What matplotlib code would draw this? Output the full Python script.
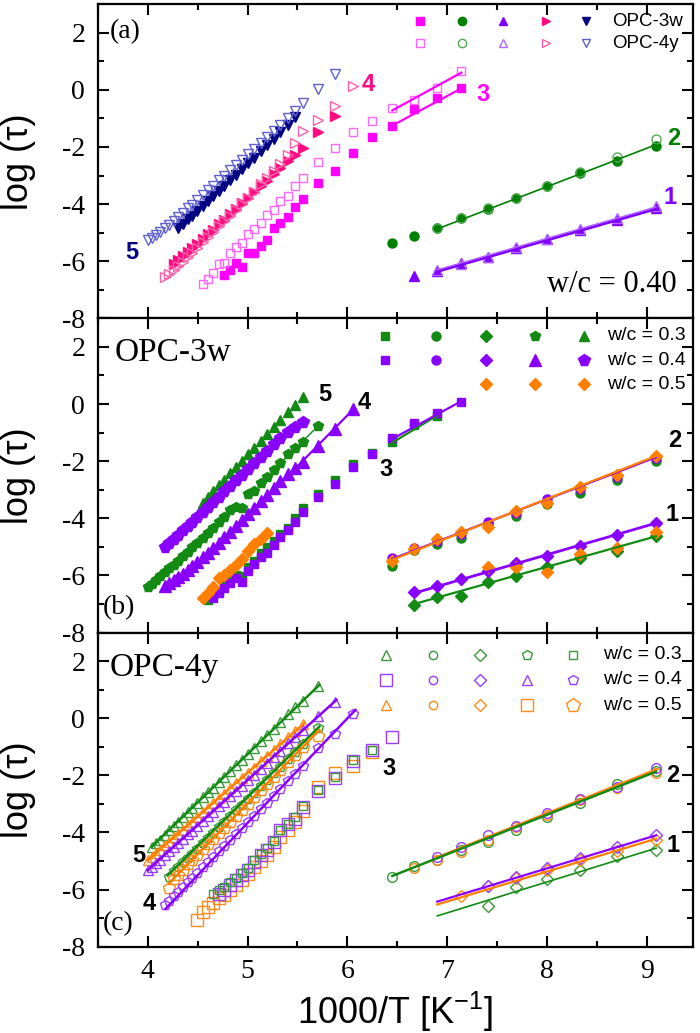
import matplotlib.pyplot as plt
from matplotlib.ticker import MultipleLocator

plt.rcParams['font.family'] = 'Liberation Serif'
plt.rcParams['axes.unicode_minus'] = False
plt.rcParams['mathtext.default'] = 'regular'

# 1000/T values of the temperature scan (K^-1)
GRID = [4.00, 4.04, 4.08, 4.12, 4.17, 4.21, 4.26, 4.30, 4.35, 4.40, 4.44, 4.49,
        4.55, 4.60, 4.65, 4.71, 4.76, 4.82, 4.88, 4.94, 5.00, 5.06, 5.13, 5.19,
        5.26, 5.33, 5.41, 5.48, 5.56, 5.71, 5.88, 6.06, 6.25, 6.45, 6.67, 6.90,
        7.14, 7.41, 7.69, 8.00, 8.33, 8.70, 9.09]


def xs(x0, n):
    i = GRID.index(x0)
    return GRID[i:i + n]


# ---------------- panel (a): w/c = 0.40, OPC-3w (filled) vs OPC-4y (open)
a5_3w = [-4.83, -4.68, -4.53, -4.40, -4.24, -4.05, -3.89, -3.73, -3.53, -3.37, -3.17,
         -2.97, -2.77, -2.57, -2.37, -2.14, -1.94, -1.71, -1.48, -1.22, -0.95]
a5_4y = [-5.27, -5.18, -5.08, -4.98, -4.85, -4.73, -4.58, -4.45, -4.30, -4.15, -4.02,
         -3.86, -3.68, -3.52, -3.36, -3.17, -3.01, -2.82, -2.63, -2.44, -2.25, -2.07,
         -1.85, -1.66, -1.44, -1.22, -0.97, -0.75, -0.45, 0.03, 0.55]
a4_3w = [-6.10, -5.96, -5.82, -5.68, -5.55, -5.40, -5.21, -5.05, -4.89, -4.70, -4.54,
         -4.35, -4.16, -3.97, -3.78, -3.59, -3.37, -3.18, -2.96, -2.74, -2.49, -2.27,
         -2.03, -1.48, -0.93]
a4_4y = [-6.57, -6.45, -6.30, -6.18, -6.02, -5.86, -5.72, -5.54, -5.33, -5.16, -4.99,
         -4.78, -4.60, -4.40, -4.20, -4.00, -3.78, -3.56, -3.31, -3.09, -2.83, -2.58,
         -2.29, -1.86, -1.43, -1.05, -0.56, 0.12]
a3_3w = [-6.50, -6.30, -6.05, -6.20, -5.72, -5.70, -5.48, -5.27, -4.85, -4.65, -4.45,
         -4.10, -3.83, -3.26, -2.85, -2.22, -1.66, -1.28, -0.66, -0.29, 0.08]
a3_4y = [-6.80, -6.63, -6.40, -6.10, -6.05, -5.70, -5.50, -5.35, -5.06, -4.88, -4.65,
         -4.38, -4.22, -3.90, -3.72, -3.35, -3.08, -2.53, -2.05, -1.49, -1.10, -0.64,
         -0.35, 0.08, 0.66]
a2_3w_x = [6.45, 6.67, 6.90, 7.14, 7.41, 7.69, 8.00, 8.33, 8.70, 9.09]
a2_3w = [-5.38, -5.13, -4.85, -4.50, -4.17, -3.80, -3.38, -2.92, -2.50, -1.97]
a2_4y_x = [6.90, 7.14, 7.41, 7.69, 8.00, 8.33, 8.70, 9.09]
a2_4y = [-4.84, -4.50, -4.13, -3.78, -3.35, -2.87, -2.36, -1.72]
a1_3w_x = [6.67, 6.90, 7.14, 7.41, 7.69, 8.00, 8.33, 8.70, 9.09]
a1_3w = [-6.51, -6.33, -6.08, -5.85, -5.55, -5.24, -4.90, -4.55, -4.15]
a1_4y_x = [6.90, 7.14, 7.41, 7.69, 8.00, 8.33, 8.70, 9.09]
a1_4y = [-6.30, -6.10, -5.85, -5.52, -5.21, -4.86, -4.50, -4.07]

# fitted lines (a)
fa3_x = [6.45, 7.14]
fa3_3w = [-1.25, 0.05]
fa3_4y = [-0.72, 0.60]
fa2_x = [6.90, 9.09]
fa2 = [-4.87, -1.92]
fa1_x = [6.90, 9.09]
fa1_3w = [-6.36, -4.17]
fa1_4y = [-6.30, -4.10]

# ---------------- panel (b): OPC-3w, w/c = 0.3 / 0.4 / 0.5
b5_03 = [-3.45, -3.25, -3.05, -2.85, -2.65, -2.42, -2.20, -1.98, -1.75, -1.53, -1.28,
         -1.05, -0.80, -0.55, -0.28, -0.02, 0.26]
b5_04 = [-5.00, -4.86, -4.72, -4.58, -4.42, -4.27, -4.13, -3.96, -3.78, -3.60, -3.44,
         -3.24, -3.06, -2.87, -2.67, -2.47, -2.27, -2.07, -1.84, -1.64, -1.41, -1.18,
         -0.98, -0.80, -0.62]
b4_03 = [-6.42, -6.30, -6.15, -6.02, -5.88, -5.75, -5.62, -5.48, -5.32, -5.17, -5.02,
         -4.86, -4.68, -4.50, -4.33, -4.12, -3.95, -3.72, -3.60, -3.65, -3.15, -3.05,
         -2.78, -2.55, -2.30, -2.05, -1.75, -1.55, -1.32, -0.76]
b4_04 = [-6.38, -6.28, -6.17, -6.06, -5.94, -5.80, -5.67, -5.52, -5.36, -5.20, -5.04,
         -4.85, -4.67, -4.47, -4.27, -4.07, -3.86, -3.65, -3.41, -3.19, -2.95, -2.70,
         -2.45, -2.25, -2.02, -1.46, -0.88, -0.18]
b3_03 = [-6.85, -6.75, -6.55, -6.35, -6.13, -6.00, -6.02, -5.72, -5.50, -5.23, -5.02,
         -4.78, -4.55, -4.33, -4.00, -3.65, -3.15, -2.66, -2.10, -1.73, -1.33, -0.72,
         -0.42]
b3_04 = [-6.80, -6.62, -6.45, -6.25, -6.10, -6.22, -5.85, -5.60, -5.35, -5.20, -4.92,
         -4.65, -4.42, -4.12, -3.78, -3.25, -2.80, -2.22, -1.75, -1.20, -0.68, -0.30,
         0.08]
b3_05 = [-6.80, -6.60, -6.40, -6.08, -5.98, -5.80, -5.62, -5.42, -5.15, -4.90, -4.72,
         -4.50]
b2_x = [6.45, 6.67, 6.90, 7.14, 7.41, 7.69, 8.00, 8.33, 8.70, 9.09]
b2_03 = [-5.68, -5.12, -4.90, -4.68, -4.20, -3.92, -3.50, -3.10, -2.65, -2.00]
b2_04 = [-5.38, -5.05, -4.80, -4.55, -4.12, -3.82, -3.33, -2.98, -2.55, -1.90]
b2_05 = [-5.48, -5.08, -4.74, -4.49, -4.29, -3.73, -3.48, -2.89, -2.47, -1.81]
b1_x = [6.67, 6.90, 7.14, 7.41, 7.69, 8.00, 8.33, 8.70, 9.09]
b1_03 = [-7.02, -6.74, -6.73, -6.24, -6.01, -5.72, -5.39, -5.16, -4.61]
b1_04 = [-6.59, -6.36, -6.13, -5.83, -5.58, -5.31, -4.96, -4.57, -4.17]
b1_05_x = [7.41, 7.69, 8.00, 8.33, 8.70, 9.09]
b1_05 = [-5.72, -5.72, -5.87, -5.25, -5.04, -4.49]

# fitted lines (b)
fb4_03_x = [5.26, 5.71]
fb4_03 = [-2.30, -0.76]
fb4_04_x = [5.48, 6.06]
fb4_04 = [-2.25, -0.18]
fb3_03_x = [6.45, 6.90]
fb3_03 = [-1.35, -0.40]
fb3_04_x = [6.45, 7.14]
fb3_04 = [-1.22, 0.10]
fb2_x = [6.45, 9.09]
fb2_04 = [-5.42, -1.86]
fb2_05 = [-5.45, -1.82]
fb1_x = [6.67, 9.09]
fb1_03 = [-7.00, -4.63]
fb1_04 = [-6.62, -4.17]

# ---------------- panel (c): OPC-4y, w/c = 0.3 / 0.4 / 0.5
c5_03 = [-4.50, -4.38, -4.25, -4.08, -3.93, -3.76, -3.62, -3.45, -3.28, -3.14, -2.97,
         -2.77, -2.60, -2.43, -2.23, -2.06, -1.86, -1.65, -1.45, -1.25, -1.05, -0.80,
         -0.60, -0.37, -0.13, 0.14, 0.38, 0.62, 1.12]
c5_04 = [-5.32, -5.20, -5.07, -4.95, -4.79, -4.66, -4.51, -4.38, -4.22, -4.06, -3.94,
         -3.78, -3.59, -3.43, -3.28, -3.09, -2.93, -2.74, -2.55, -2.36, -2.17, -1.98,
         -1.76, -1.57, -1.35, -1.13, -0.88, -0.66, -0.41, 0.08, 0.58]
c5_05 = [-4.97, -4.85, -4.72, -4.60, -4.45, -4.33, -4.17, -4.05, -3.90, -3.74, -3.62,
         -3.47, -3.29, -3.13, -2.98, -2.80, -2.64, -2.46, -2.28, -2.09, -1.91, -1.73,
         -1.51, -1.33, -1.12, -0.90, -0.66, -0.44, -0.20]
c4_03 = [-5.55, -5.35, -5.22, -5.05, -4.88, -4.74, -4.57, -4.37, -4.19, -4.02, -3.82,
         -3.64, -3.44, -3.23, -3.03, -2.82, -2.61, -2.37, -2.17, -1.93, -1.69, -1.41,
         -1.17, -0.90, -0.35]
c4_04 = [-6.55, -6.40, -6.23, -6.09, -5.92, -5.74, -5.60, -5.43, -5.22, -5.04, -4.87,
         -4.66, -4.48, -4.27, -4.06, -3.85, -3.64, -3.43, -3.18, -2.97, -2.73, -2.48,
         -2.20, -1.96, -1.68, -1.05, -0.55, 0.15]
c4_05 = [-5.95, -5.62, -5.48, -5.30, -5.12, -4.98, -4.80, -4.59, -4.41, -4.23, -4.02,
         -3.84, -3.63, -3.41, -3.20, -2.99, -2.77, -2.52, -2.31, -2.06, -1.81, -1.52,
         -1.28, -0.99, -0.62]
c3_03 = [-6.15, -6.00, -5.90, -5.75, -5.58, -5.42, -5.25, -4.97, -4.75, -4.55, -4.30,
         -3.92, -3.70, -3.45, -3.08, -2.50, -2.05, -1.45, -1.10]
c3_04 = [-6.15, -6.00, -5.85, -5.65, -5.48, -5.30, -5.05, -4.78, -4.60, -4.32, -3.90,
         -3.72, -3.52, -3.10, -2.55, -2.10, -1.50, -1.12, -0.64]
c3_05 = [-7.05, -6.80, -6.62, -6.48, -6.30, -6.18, -6.00, -5.85, -5.65, -5.45, -5.22,
         -5.00, -4.78, -4.52, -4.15, -3.90, -3.62, -3.25, -2.40, -1.93, -1.67, -1.17]
c2_03_x = [6.45, 6.67, 6.90, 7.14, 7.41, 7.69, 8.00, 8.33, 8.70, 9.09]
c2_03 = [-5.55, -5.18, -4.95, -4.62, -4.35, -3.92, -3.45, -2.98, -2.30, -1.85]
c2_04_x = [6.90, 7.14, 7.41, 7.69, 8.00, 8.33, 8.70, 9.09]
c2_04 = [-4.85, -4.50, -4.10, -3.76, -3.32, -2.84, -2.40, -1.73]
c2_05_x = [6.67, 6.90, 7.14, 7.41, 7.69, 8.00, 8.33, 8.70, 9.09]
c2_05 = [-5.25, -4.97, -4.68, -4.25, -3.80, -3.38, -2.87, -2.45, -1.90]
c1_03_x = [7.41, 7.69, 8.00, 8.33, 8.70, 9.09]
c1_03 = [-6.58, -5.92, -5.62, -5.33, -4.82, -4.63]
c1_04_x = [7.41, 7.69, 8.00, 8.33, 8.70, 9.09]
c1_04 = [-5.88, -5.55, -5.25, -4.88, -4.50, -4.08]
c1_05_x = [7.14, 7.41, 7.69, 8.00, 8.33, 8.70, 9.09]
c1_05 = [-6.24, -5.86, -5.58, -5.30, -4.98, -4.65, -4.25]

# fitted lines (c)
fc5_03_x = [4.04, 5.72]
fc5_03 = [-4.50, 1.17]
fc5_05_x = [4.00, 5.57]
fc5_05 = [-4.97, -0.17]
fc5_04_x = [4.00, 5.89]
fc5_04 = [-5.32, 0.64]
fc4_03_x = [4.20, 5.72]
fc4_03 = [-5.50, -0.29]
fc4_05_x = [4.21, 5.72]
fc4_05 = [-5.79, -0.41]
fc4_04_x = [4.18, 6.08]
fc4_04 = [-6.67, 0.29]
fc2_03_x = [6.45, 9.09]
fc2_03 = [-5.52, -1.87]
fc2_05_x = [6.90, 9.09]
fc2_05 = [-4.87, -1.80]
fc1_x = [6.90, 9.09]
fc1_03 = [-6.92, -4.55]
fc1_04 = [-6.42, -4.10]
fc1_05 = [-6.52, -4.22]

MAGENTA, MAGENTA_L = '#ff00ff', '#ff66ff'
GREEN_A, GREEN_AL = '#008000', '#55aa55'
VIOLET, VIOLET_L = '#8000ff', '#b266ff'
PINK, PINK_L = '#ff0a80', '#ff5fa8'
NAVY, NAVY_L = '#000080', '#6060d0'
GREEN, PURPLE, ORANGE = '#138a13', '#8a00ff', '#ff8000'
GREEN_O, PURPLE_O, ORANGE_O = '#3a9a3a', '#9a3dff', '#ff8c1a'


def pts(ax, x, y, marker, color, ms=6.5, filled=True, mew=1.0):
    ax.plot(x, y, ls='none', marker=marker, ms=ms, mec=color, mew=mew,
            mfc=color if filled else 'none', zorder=3)


def fit(ax, x, y, color, lw=1.6):
    ax.plot(x, y, color=color, lw=lw, zorder=4)


def key(ax, fx, fy, marker, color, ms=6.5, filled=True):
    ax.plot([fx], [fy], transform=ax.transAxes, ls='none', marker=marker, ms=ms,
            mec=color, mfc=color if filled else 'none', mew=1.0, clip_on=False)


def setup(ax, bottom):
    ax.set_xlim(3.5, 9.46)
    ax.set_ylim(-8, 3)
    ax.xaxis.set_major_locator(MultipleLocator(1))
    ax.xaxis.set_minor_locator(MultipleLocator(0.5))
    ax.yaxis.set_major_locator(MultipleLocator(2))
    ax.yaxis.set_minor_locator(MultipleLocator(1))
    ax.tick_params(which='both', direction='in', top=True, right=True, width=1.5)
    ax.tick_params(which='major', length=8, labelsize=20, pad=9)
    ax.tick_params(which='minor', length=4)
    for s in ax.spines.values():
        s.set_linewidth(1.6)
    if not bottom:
        ax.tick_params(labelbottom=False)


fig, (ax_a, ax_b, ax_c) = plt.subplots(3, 1, figsize=(7, 10.33), dpi=100)
fig.subplots_adjust(left=0.1396, right=0.990, bottom=0.0835, top=0.996, hspace=0)
for ax in (ax_a, ax_b, ax_c):
    setup(ax, ax is ax_c)
    pos = ax.get_position()
    fig.text(0.026, (pos.y0 + pos.y1) / 2, 'log (τ)', rotation=90, ha='center',
             va='center', fontsize=26, family='Liberation Sans')

# ---- panel (a)
ax = ax_a
pts(ax, xs(4.30, len(a5_3w)), a5_3w, 'v', NAVY, 7)
pts(ax, xs(4.00, len(a5_4y)), a5_4y, 'v', NAVY_L, 7, False)
pts(ax, xs(4.26, len(a4_3w)), a4_3w, '>', PINK, 7)
pts(ax, xs(4.17, len(a4_4y)), a4_4y, '>', PINK_L, 7, False)
pts(ax, xs(4.76, len(a3_3w)), a3_3w, 's', MAGENTA, 6)
pts(ax, xs(4.55, len(a3_4y)), a3_4y, 's', MAGENTA_L, 6, False)
pts(ax, a2_3w_x, a2_3w, 'o', GREEN_A, 6.5)
pts(ax, a2_4y_x, a2_4y, 'o', GREEN_AL, 6.5, False)
pts(ax, a1_3w_x, a1_3w, '^', VIOLET, 7)
pts(ax, a1_4y_x, a1_4y, '^', VIOLET_L, 7, False)
fit(ax, fa3_x, fa3_3w, MAGENTA)
fit(ax, fa3_x, fa3_4y, MAGENTA)
fit(ax, fa2_x, fa2, GREEN_A, 1.2)
fit(ax, fa1_x, fa1_3w, VIOLET, 2.0)
fit(ax, fa1_x, fa1_4y, VIOLET_L, 1.0)

ax.text(3.62, 2.05, '(a)', fontsize=20, va='center')
ax.text(9.30, -6.8, 'w/c = 0.40', fontsize=22, ha='right', va='center')
for lab, lx, ly, c in [('5', 3.84, -5.7, NAVY), ('4', 6.21, 0.17, PINK),
                       ('3', 7.36, -0.17, MAGENTA), ('2', 9.27, -1.69, GREEN_A),
                       ('1', 9.23, -3.78, VIOLET)]:
    ax.text(lx, ly, lab, color=c, fontsize=17, fontweight='bold',
            family='Liberation Sans', ha='center', va='center')

kx = [0.541, 0.612, 0.681, 0.753, 0.820]
row1 = [('s', MAGENTA), ('o', GREEN_A), ('^', VIOLET), ('>', PINK), ('v', NAVY)]
row2 = [('s', MAGENTA_L), ('o', GREEN_AL), ('^', VIOLET_L), ('>', PINK_L), ('v', NAVY_L)]
for fx, (m, c) in zip(kx, row1):
    key(ax, fx, 0.946, m, c, 6)
for fx, (m, c) in zip(kx, row2):
    key(ax, fx, 0.876, m, c, 6, False)
ax.text(0.864, 0.946, 'OPC-3w', transform=ax.transAxes, fontsize=13.5,
        family='Liberation Sans', va='center')
ax.text(0.864, 0.876, 'OPC-4y', transform=ax.transAxes, fontsize=13.5,
        family='Liberation Sans', va='center')

# ---- panel (b)
ax = ax_b
pts(ax, xs(4.55, len(b5_03)), b5_03, '^', GREEN, 7)
pts(ax, xs(4.17, len(b5_04)), b5_04, 'p', PURPLE, 8.5)
pts(ax, xs(4.00, len(b4_03)), b4_03, 'p', GREEN, 7)
pts(ax, xs(4.17, len(b4_04)), b4_04, '^', PURPLE, 8.5)
pts(ax, xs(4.60, len(b3_03)), b3_03, 's', GREEN, 6)
pts(ax, xs(4.65, len(b3_04)), b3_04, 's', PURPLE, 6)
pts(ax, xs(4.55, len(b3_05)), b3_05, 'D', ORANGE, 6)
pts(ax, b2_x, b2_03, 'o', GREEN, 6.5)
pts(ax, b2_x, b2_04, 'o', PURPLE, 6.5)
pts(ax, b2_x, b2_05, 'D', ORANGE, 6)
pts(ax, b1_x, b1_03, 'D', GREEN, 6)
pts(ax, b1_x, b1_04, 'D', PURPLE, 6)
pts(ax, b1_05_x, b1_05, 'D', ORANGE, 6)
fit(ax, fb4_03_x, fb4_03, GREEN, 1.0)
fit(ax, fb4_04_x, fb4_04, PURPLE)
fit(ax, fb3_03_x, fb3_03, GREEN)
fit(ax, fb3_04_x, fb3_04, PURPLE)
fit(ax, fb2_x, fb2_04, PURPLE)
fit(ax, fb2_x, fb2_05, ORANGE)
fit(ax, fb1_x, fb1_03, GREEN)
fit(ax, fb1_x, fb1_04, PURPLE, 2.0)

ax.text(3.67, 1.79, 'OPC-3w', fontsize=24, va='center')
ax.text(3.55, -7.13, '(b)', fontsize=20, va='center')
for lab, lx, ly in [('5', 5.77, 0.35), ('4', 6.17, 0.06), ('3', 6.39, -2.28),
                    ('2', 9.28, -1.28), ('1', 9.25, -3.87)]:
    ax.text(lx, ly, lab, fontsize=17, fontweight='bold', family='Liberation Sans',
            ha='center', va='center')

kx = [0.482, 0.568, 0.652, 0.734, 0.817]
rows = [
    (0.944, [('s', GREEN, 6), ('o', GREEN, 6.5), ('D', GREEN, 6), ('p', GREEN, 7), ('^', GREEN, 7)]),
    (0.867, [('s', PURPLE, 6), ('o', PURPLE, 6.5), ('D', PURPLE, 6), ('^', PURPLE, 8.5), ('p', PURPLE, 8.5)]),
    (0.791, [None, None, ('D', ORANGE, 6), ('D', ORANGE, 6), ('D', ORANGE, 6)]),
]
for fy, row in rows:
    for fx, item in zip(kx, row):
        if item:
            key(ax, fx, fy, item[0], item[1], item[2])
for fy, lab in zip([0.944, 0.867, 0.791], ['w/c = 0.3', 'w/c = 0.4', 'w/c = 0.5']):
    ax.text(0.855, fy, lab, transform=ax.transAxes, fontsize=14,
            family='Liberation Sans', va='center')

# ---- panel (c)
ax = ax_c
pts(ax, xs(4.04, len(c5_03)), c5_03, '^', GREEN_O, 7, False)
pts(ax, xs(4.00, len(c5_05)), c5_05, '^', ORANGE_O, 7, False)
pts(ax, xs(4.00, len(c5_04)), c5_04, '^', PURPLE_O, 7, False)
pts(ax, xs(4.21, len(c4_03)), c4_03, 'p', GREEN_O, 7, False)
pts(ax, xs(4.21, len(c4_05)), c4_05, 'p', ORANGE_O, 9, False)
pts(ax, xs(4.17, len(c4_04)), c4_04, 'p', PURPLE_O, 7, False)
pts(ax, xs(4.49, len(c3_05)), c3_05, 's', ORANGE_O, 9, False)
pts(ax, xs(4.71, len(c3_04)), c3_04, 's', PURPLE_O, 9, False)
pts(ax, xs(4.65, len(c3_03)), c3_03, 's', GREEN_O, 6, False)
pts(ax, c2_03_x, c2_03, 'o', GREEN_O, 7, False)
pts(ax, c2_05_x, c2_05, 'o', ORANGE_O, 7, False)
pts(ax, c2_04_x, c2_04, 'o', PURPLE_O, 7, False)
pts(ax, c1_03_x, c1_03, 'D', GREEN_O, 6.5, False)
pts(ax, c1_05_x, c1_05, 'D', ORANGE_O, 6.5, False)
pts(ax, c1_04_x, c1_04, 'D', PURPLE_O, 6.5, False)
fit(ax, fc5_03_x, fc5_03, GREEN, 1.8)
fit(ax, fc5_05_x, fc5_05, ORANGE, 1.8)
fit(ax, fc5_04_x, fc5_04, PURPLE, 1.8)
fit(ax, fc4_03_x, fc4_03, GREEN, 1.8)
fit(ax, fc4_05_x, fc4_05, ORANGE, 1.8)
fit(ax, fc4_04_x, fc4_04, PURPLE, 1.8)
fit(ax, fc2_05_x, fc2_05, ORANGE, 1.8)
fit(ax, fc2_03_x, fc2_03, GREEN, 1.8)
fit(ax, fc1_x, fc1_03, GREEN, 1.2)
fit(ax, fc1_x, fc1_05, ORANGE, 1.6)
fit(ax, fc1_x, fc1_04, PURPLE, 1.6)

ax.text(3.62, 1.76, 'OPC-4y', fontsize=24, va='center')
ax.text(3.55, -7.19, '(c)', fontsize=20, va='center')
for lab, lx, ly in [('5', 3.91, -4.8), ('4', 4.02, -6.49), ('3', 6.42, -1.75),
                    ('2', 9.26, -1.99), ('1', 9.26, -4.44)]:
    ax.text(lx, ly, lab, fontsize=17, fontweight='bold', family='Liberation Sans',
            ha='center', va='center')

kx = [0.485, 0.563, 0.642, 0.721, 0.798]
rows = [
    (0.929, [('^', GREEN_O, 6.5), ('o', GREEN_O, 6), ('D', GREEN_O, 6), ('p', GREEN_O, 7), ('s', GREEN_O, 5.5)]),
    (0.849, [('s', PURPLE_O, 9), ('o', PURPLE_O, 6), ('D', PURPLE_O, 6), ('^', PURPLE_O, 6.5), ('p', PURPLE_O, 7)]),
    (0.768, [('^', ORANGE_O, 6.5), ('o', ORANGE_O, 6), ('D', ORANGE_O, 6), ('s', ORANGE_O, 9), ('p', ORANGE_O, 10)]),
]
for fy, row in rows:
    for fx, (m, c, s) in zip(kx, row):
        key(ax, fx, fy, m, c, s, False)
for fy, lab in zip([0.929, 0.849, 0.768], ['w/c = 0.3', 'w/c = 0.4', 'w/c = 0.5']):
    ax.text(0.849, fy, lab, transform=ax.transAxes, fontsize=14,
            family='Liberation Sans', va='center')

ax.set_xlabel('1000/T [K$^{-1}$]', fontsize=26, family='Liberation Sans', labelpad=4)

fig.savefig('out.png', dpi=100)
